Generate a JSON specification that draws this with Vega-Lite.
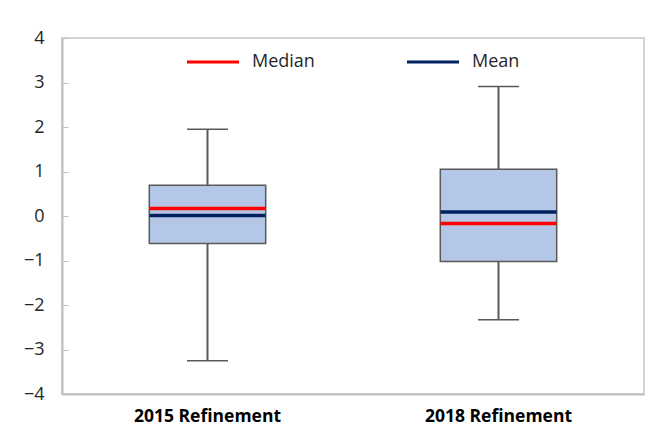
{
  "$schema": "https://vega.github.io/schema/vega-lite/v6.json",
  "autosize": "none",
  "width": 582,
  "height": 356,
  "padding": {"left": 62, "top": 38, "right": 10, "bottom": 39},
  "background": "white",
  "config": {
    "font": "Open Sans",
    "view": {"stroke": "#c6c6c6", "strokeWidth": 1.5}
  },
  "data": {
    "values": [
      {"group": "2015 Refinement", "lo": -3.25, "q1": -0.62, "q3": 0.69, "hi": 1.95, "Median": 0.17, "Mean": 0.01},
      {"group": "2018 Refinement", "lo": -2.33, "q1": -1.02, "q3": 1.05, "hi": 2.91, "Median": -0.17, "Mean": 0.09}
    ]
  },
  "encoding": {
    "x": {
      "field": "group",
      "type": "nominal",
      "sort": null,
      "scale": {"paddingInner": 0, "paddingOuter": 0},
      "axis": {
        "title": null,
        "labelAngle": 0,
        "labelFont": "Open Sans",
        "labelFontSize": 17.5,
        "labelFontWeight": "bold",
        "labelColor": "#000000",
        "labelPadding": 13,
        "ticks": false,
        "domainColor": "#bfbfbf",
        "domainWidth": 2
      }
    }
  },
  "layer": [
    {
      "mark": {"type": "rule", "stroke": "#595959", "strokeWidth": 2},
      "encoding": {
        "y": {
          "field": "lo",
          "type": "quantitative",
          "scale": {"domain": [-4, 4], "nice": false},
          "axis": {
            "title": null,
            "values": [-4, -3, -2, -1, 0, 1, 2, 3, 4],
            "grid": false,
            "labelFont": "Open Sans",
            "labelFontSize": 18,
            "labelColor": "#262626",
            "labelPadding": 24,
            "tickSize": -6,
            "tickColor": "#bfbfbf",
            "domainColor": "#bfbfbf",
            "domainWidth": 2
          }
        },
        "y2": {"field": "hi"}
      }
    },
    {
      "mark": {"type": "tick", "color": "#595959", "size": 41, "thickness": 1.5, "opacity": 1},
      "encoding": {"y": {"field": "lo", "type": "quantitative"}}
    },
    {
      "mark": {"type": "tick", "color": "#595959", "size": 41, "thickness": 1.5, "opacity": 1},
      "encoding": {"y": {"field": "hi", "type": "quantitative"}}
    },
    {
      "mark": {"type": "bar", "fill": "#b4c7e7", "stroke": "#595959", "strokeWidth": 1.5, "width": {"band": 0.4}},
      "encoding": {
        "y": {"field": "q1", "type": "quantitative"},
        "y2": {"field": "q3"}
      }
    },
    {
      "transform": [{"fold": ["Median", "Mean"], "as": ["stat", "value"]}],
      "mark": {"type": "tick", "size": 116, "thickness": 3.5, "opacity": 1},
      "encoding": {
        "y": {"field": "value", "type": "quantitative"},
        "color": {
          "field": "stat",
          "type": "nominal",
          "scale": {"domain": ["Median", "Mean"], "range": ["#ff0000", "#002060"]},
          "legend": {
            "title": null,
            "orient": "none",
            "legendX": 125,
            "legendY": -2,
            "direction": "horizontal",
            "columns": 2,
            "columnPadding": 92,
            "symbolType": "M-1,-0.06H1V0.06H-1Z",
            "symbolSize": 2704,
            "symbolStrokeWidth": 0,
            "symbolOpacity": 1,
            "labelFont": "Open Sans",
            "labelFontSize": 18,
            "labelColor": "#262626",
            "labelOffset": 13
          }
        }
      }
    }
  ]
}
